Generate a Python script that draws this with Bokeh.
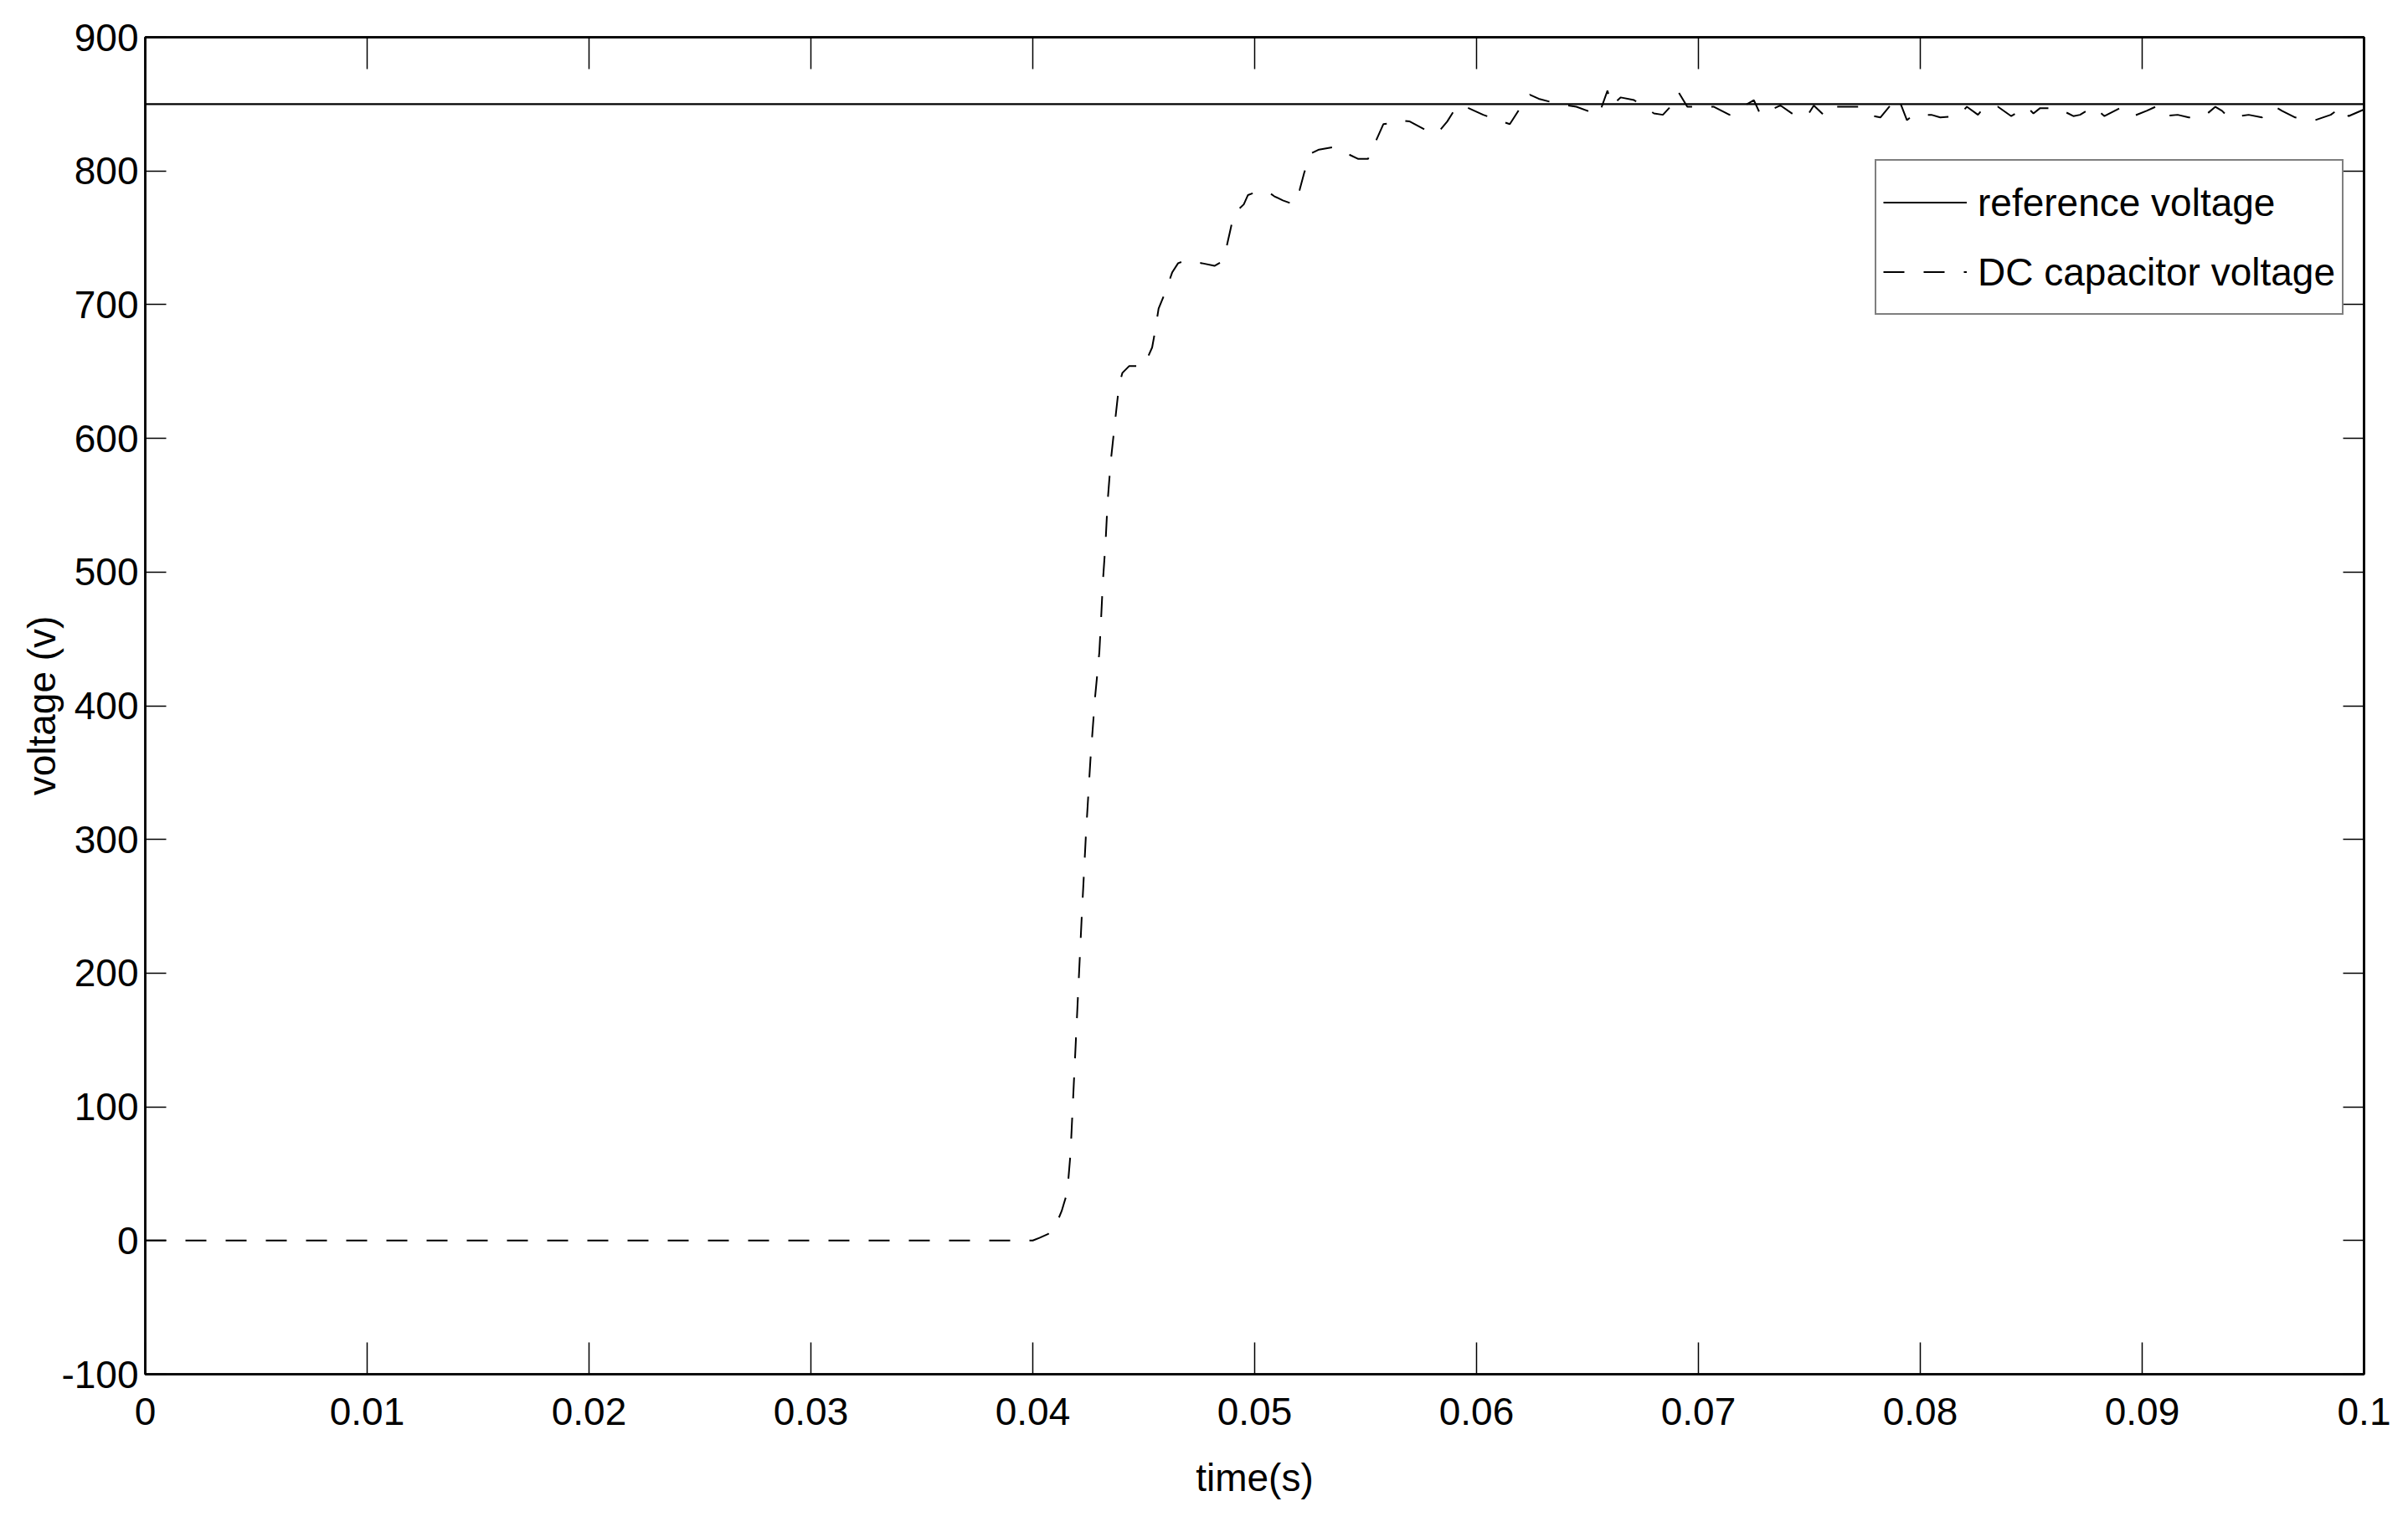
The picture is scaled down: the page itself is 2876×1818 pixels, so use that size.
from bokeh.plotting import figure
from bokeh.models import Range1d, FixedTicker, LinearAxis, Legend, LegendItem
from bokeh.embed import file_html
from bokeh.resources import INLINE

# ---------------- data ----------------
ref_t = [0.0, 0.1]
ref_v = [850, 850]

dc_t = [0.0000, 0.0400, 0.0403, 0.0407, 0.0410, 0.0413, 0.0415, 0.0416, 0.0417, 0.0418,
        0.0420, 0.0422, 0.0424, 0.0426, 0.0428, 0.0430, 0.04307, 0.04316, 0.04328, 0.04337,
        0.04351, 0.04369, 0.04389, 0.04404, 0.04434, 0.04501, 0.04538, 0.04551, 0.04567, 0.04599,
        0.04628, 0.04655, 0.04687, 0.04762, 0.04819, 0.04850, 0.04869, 0.04888, 0.04907, 0.04951,
        0.04970, 0.05020, 0.05064, 0.05089, 0.05127, 0.05177, 0.05203, 0.05224, 0.05253, 0.05290,
        0.05360, 0.05416, 0.05467, 0.05511, 0.05548, 0.05580, 0.05624, 0.05649, 0.05699, 0.05777,
        0.05823, 0.05868, 0.05913, 0.0595, 0.0603, 0.0615, 0.0620, 0.0624, 0.0628, 0.0637,
        0.0645, 0.0650, 0.0653, 0.0656, 0.0659, 0.0661, 0.0665, 0.0671, 0.0680, 0.0684,
        0.0689, 0.0691, 0.0695, 0.0707, 0.0714, 0.0719, 0.0725, 0.0728, 0.0737, 0.0743,
        0.0749, 0.0752, 0.0757, 0.0761, 0.0772, 0.0776, 0.0782, 0.0787, 0.0790, 0.0794,
        0.0797, 0.0805, 0.0809, 0.0817, 0.0821, 0.0826, 0.0829, 0.0835, 0.0841, 0.0848,
        0.0851, 0.0854, 0.0862, 0.0869, 0.0872, 0.0878, 0.0883, 0.0890, 0.0896, 0.0902,
        0.0906, 0.0909, 0.0916, 0.0921, 0.0928, 0.0933, 0.0936, 0.0939, 0.0948, 0.0954,
        0.0960, 0.0963, 0.0969, 0.0978, 0.0985, 0.0990, 0.0993, 0.1000]
dc_v = [0, 0, 2, 5, 10, 22, 33, 45, 65, 100,
        170, 240, 305, 360, 405, 440, 462, 493, 522, 552,
        582, 610, 640, 649, 654, 654, 668, 680, 697, 710,
        724, 731, 733, 731, 729, 732, 740, 754, 768, 775,
        782, 785, 784, 781, 778, 775, 786, 799, 813, 816,
        818, 813, 809, 809, 823, 835, 836, 838, 837, 830,
        828, 837, 849, 848, 842, 835, 848, 857, 854, 850,
        848, 845, 841, 846, 860, 849, 855, 853, 843, 842,
        851, 859, 848, 848, 842, 847, 853, 842, 849, 842,
        841, 849, 841, 848, 848, 842, 840, 850, 855, 838,
        842, 842, 840, 841, 848, 842, 848, 848, 841, 848,
        843, 847, 847, 841, 842, 848, 841, 847, 841, 845,
        848, 841, 842, 840, 841, 848, 845, 840, 842, 840,
        848, 845, 840, 838, 842, 848, 841, 846]

x_ticks = [0, 0.01, 0.02, 0.03, 0.04, 0.05, 0.06, 0.07, 0.08, 0.09, 0.1]
x_tick_labels = ["0", "0.01", "0.02", "0.03", "0.04", "0.05", "0.06", "0.07", "0.08", "0.09", "0.1"]
y_ticks = [-100, 0, 100, 200, 300, 400, 500, 600, 700, 800, 900]
y_tick_labels = ["-100", "0", "100", "200", "300", "400", "500", "600", "700", "800", "900"]

series_names = ["reference voltage", "DC capacitor voltage"]
x_title = "time(s)"
y_title = "voltage (v)"

FONT = "Liberation Sans"
FS = "46px"

# ---------------- figure ----------------
p = figure(width=2870, height=1812,
           x_range=Range1d(0, 0.1), y_range=Range1d(-100, 900),
           output_backend="svg", toolbar_location=None,
           min_border_left=173, min_border_right=47,
           min_border_top=44, min_border_bottom=171,
           x_axis_label=x_title, y_axis_label=y_title)

p.background_fill_color = "white"
p.border_fill_color = "white"
p.outline_line_color = "black"
p.outline_line_width = 2.5
p.xgrid.visible = False
p.ygrid.visible = False

xax = p.xaxis[0]
xax.ticker = FixedTicker(ticks=x_ticks)
xax.major_label_overrides = dict(zip(x_ticks, x_tick_labels))
yax = p.yaxis[0]
yax.ticker = FixedTicker(ticks=y_ticks)
yax.major_label_overrides = dict(zip(y_ticks, y_tick_labels))

for ax, tl in ((xax, 38), (yax, 25)):
    ax.major_tick_in = tl
    ax.major_tick_out = 0
    ax.minor_tick_line_color = None
    ax.major_tick_line_color = "black"
    ax.major_tick_line_width = 1.5
    ax.axis_line_color = "black"
    ax.axis_line_width = 2.5
    ax.major_label_text_font = FONT
    ax.major_label_text_font_size = FS
    ax.major_label_text_color = "black"
    ax.axis_label_text_font = FONT
    ax.axis_label_text_font_size = FS
    ax.axis_label_text_font_style = "normal"
    ax.axis_label_text_color = "black"

xax.major_label_standoff = 28
xax.axis_label_standoff = 34
yax.major_label_standoff = 8
yax.axis_label_standoff = -6

# mirrored axes (box on) with inward ticks, no labels
right_ax = LinearAxis(ticker=FixedTicker(ticks=y_ticks),
                      major_label_overrides={t: "" for t in y_ticks},
                      major_label_text_font_size="1px",
                      major_tick_in=25, major_tick_out=0,
                      major_tick_line_width=1.5, minor_tick_line_color=None,
                      axis_line_width=2.5, major_label_standoff=0)
top_ax = LinearAxis(ticker=FixedTicker(ticks=x_ticks),
                    major_label_overrides={t: "" for t in x_ticks},
                    major_label_text_font_size="1px",
                    major_tick_in=38, major_tick_out=0,
                    major_tick_line_width=1.5, minor_tick_line_color=None,
                    axis_line_width=2.5, major_label_standoff=0)
p.add_layout(right_ax, "right")
p.add_layout(top_ax, "above")

# ---------------- lines ----------------
r_ref = p.line(ref_t, ref_v, line_color="black", line_width=2.2)
r_dc = p.line(dc_t, dc_v, line_color="black", line_width=2.0, line_dash="25 23")

legend = Legend(items=[LegendItem(label=series_names[0], renderers=[r_ref]),
                       LegendItem(label=series_names[1], renderers=[r_dc])],
                location=(2066, 1265), margin=0, padding=8, spacing=0,
                label_height=83, glyph_height=83, glyph_width=100, label_standoff=13,
                label_text_font=FONT, label_text_font_size=FS, label_text_color="black",
                border_line_color="black", border_line_width=2,
                background_fill_color="white", background_fill_alpha=1.0)
p.add_layout(legend, "center")

open("out.html", "w").write(file_html(p, INLINE))
